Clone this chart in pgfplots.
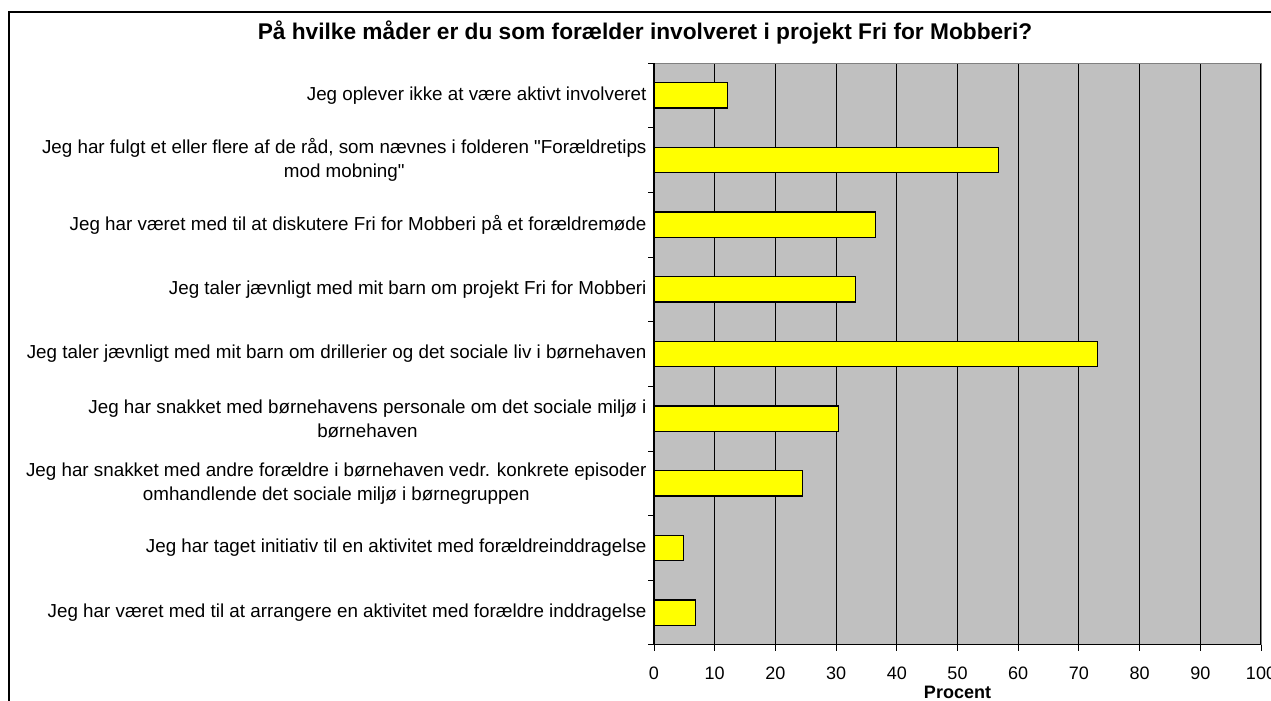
\documentclass[border=0pt]{standalone}
\usepackage{fontspec}
\setmainfont{Liberation Sans}[Ligatures=TeXOff]
\usepackage{pgfplots}
\pgfplotsset{compat=1.18}
\definecolor{plotgray}{HTML}{C0C0C0}
\definecolor{bary}{HTML}{FFFF00}
\begin{document}
\begin{tikzpicture}[x=1pt,y=1pt]
\useasboundingbox (0,0) rectangle (1271,701);
\clip (0,0) rectangle (1271,701);
\draw[line width=1.8pt] (9,-5) -- (9,689) -- (1280,689);
\node[font=\bfseries\fontsize{22.7}{26}\selectfont] at (645,668) {På hvilke måder er du som forælder involveret i projekt Fri for Mobberi?};
\begin{axis}[
  at={(654pt,56pt)}, anchor=south west,
  scale only axis, width=607pt, height=582pt,
  xmin=0, xmax=100, ymin=0, ymax=9,
  xtick={0,10,...,100},
  ytick={0,...,9}, yticklabels={},
  extra y ticks={0.5,1.5,2.5,3.5,4.5,5.5,6.5,7.5,8.5},
  extra y tick labels={
    {Jeg har været med til at arrangere en aktivitet med forældre inddragelse},
    {Jeg har taget initiativ til en aktivitet med forældreinddragelse},
    {Jeg har snakket med andre forældre i børnehaven vedr. konkrete episoder\\omhandlende det sociale miljø i børnegruppen},
    {Jeg har snakket med børnehavens personale om det sociale miljø i\\børnehaven},
    {Jeg taler jævnligt med mit barn om drillerier og det sociale liv i børnehaven},
    {Jeg taler jævnligt med mit barn om projekt Fri for Mobberi},
    {Jeg har været med til at diskutere Fri for Mobberi på et forældremøde},
    {Jeg har fulgt et eller flere af de råd, som nævnes i folderen "Forældretips\\mod mobning"},
    {Jeg oplever ikke at være aktivt involveret}},
  extra y tick style={major tick length=0pt},
  xtick pos=left, ytick pos=left,
  tick align=outside, major tick length=6pt,
  tick style={black, line width=1pt},
  xmajorgrids, grid style={black, line width=1.1pt},
  axis background/.style={fill=plotgray},
  axis line style={draw=gray, line width=1pt},
  /pgf/number format/assume math mode=true,
  x tick label style={font=\fontsize{18}{21}\selectfont, anchor=center, yshift=-22pt},
  y tick label style={font=\fontsize{18.8}{24}\selectfont, align=center, xshift=-4pt},
  xlabel={\textbf{Procent}},
  xlabel style={font=\fontsize{18}{21}\selectfont, at={(rel axis cs:0.5,0)}, anchor=center, yshift=-47pt},
  xbar, bar width=0.39,
]
\addplot[fill=bary, draw=black, line width=1.2pt] coordinates {
  (6.8,0.5) (4.8,1.5) (24.5,2.5) (30.4,3.5) (73.0,4.5)
  (33.2,5.5) (36.5,6.5) (56.8,7.5) (12.1,8.5)};
\draw[black, line width=1.3pt] (rel axis cs:0,1) -- (rel axis cs:0,0) -- (rel axis cs:1,0);
\end{axis}
\end{tikzpicture}
\end{document}
